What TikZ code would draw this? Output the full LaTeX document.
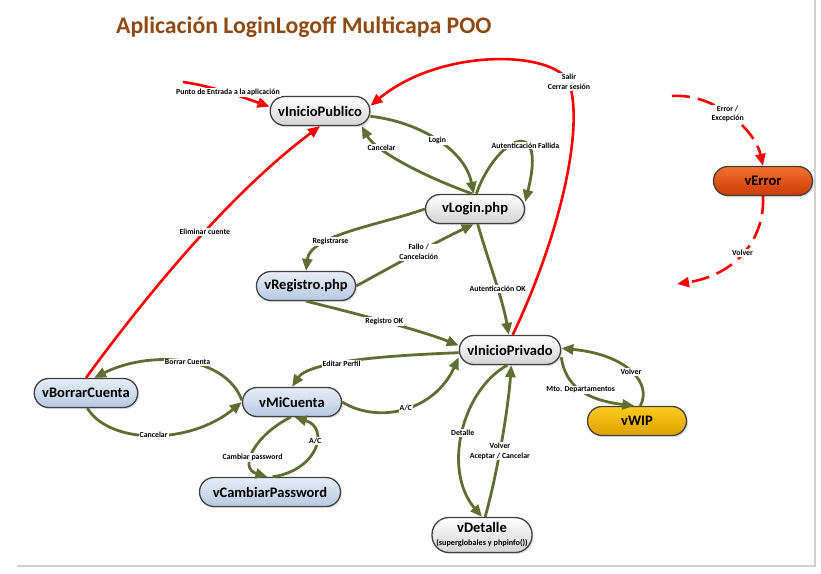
\documentclass[tikz,border=0pt]{standalone}
\usepackage{fontspec}
\setmainfont{Carlito}
\usetikzlibrary{arrows.meta,shadows}
\definecolor{edgegreen}{HTML}{5F6E32}
\definecolor{titlebrown}{HTML}{8E4A12}
\definecolor{bluetop}{HTML}{E6EEF7}
\definecolor{bluebot}{HTML}{B6CAE3}
\definecolor{errtop}{HTML}{F2712F}
\definecolor{errbot}{HTML}{CC3A02}
\definecolor{wiptop}{HTML}{FCCB1E}
\definecolor{wipbot}{HTML}{DDA000}
\definecolor{bordergrey}{HTML}{404040}
\newcommand{\ndfont}{\fontsize{14.5}{16}\selectfont\bfseries}
\newcommand{\lblfont}{\fontsize{7.8}{9.5}\selectfont\bfseries}
\begin{document}
\begin{tikzpicture}[x=1pt,y=-1pt,
  nd/.style={rectangle, rounded corners=14.5pt, draw=bordergrey, line width=1.3pt, minimum width=99pt,
    minimum height=29pt, inner xsep=8pt, inner ysep=2pt, font=\ndfont,
    drop shadow={shadow xshift=1.6pt,shadow yshift=-1.6pt,opacity=0.25}},
  greynode/.style={nd, top color=white, bottom color=black!17},
  bluenode/.style={nd, top color=bluetop, bottom color=bluebot},
  errnode/.style={nd, top color=errtop, bottom color=errbot},
  wipnode/.style={nd, top color=wiptop, bottom color=wipbot},
  ge/.style={draw=edgegreen, line width=2.8pt, -{Triangle[length=12pt,width=10pt]}},
  re/.style={draw=red, line width=2.6pt, -{Triangle[length=12pt,width=10pt]}},
  rd/.style={re, dash pattern=on 18pt off 8pt},
  lbl/.style={font=\lblfont, fill=white, inner sep=1pt, text=black, align=center}
]
\useasboundingbox (0,0) rectangle (821,573);
\draw[black!18, line width=1.5pt] (17,566) -- (815,566) -- (815,0);

\node[anchor=base west, font=\fontsize{23.8}{26}\selectfont\bfseries, text=titlebrown, inner sep=0]
  (title) at (116,33) {Aplicación LoginLogoff Multicapa POO};

% nodes
\node[greynode] (pub) at (320,111) {vInicioPublico};
\node[greynode] (login) at (475,209) {vLogin.php};
\node[bluenode] (reg) at (306,286) {vRegistro.php};
\node[greynode] (priv) at (510,350) {vInicioPrivado};
\node[errnode] (err) at (763,181) {vError};
\node[wipnode] (wip) at (637,421) {vWIP};
\node[bluenode] (mi) at (292,402) {vMiCuenta};
\node[bluenode] (borrar) at (86,393) {vBorrarCuenta};
\node[bluenode, minimum width=141pt] (cp) at (270,492) {vCambiarPassword};
\node[greynode, minimum width=100pt, minimum height=35pt, rounded corners=17pt, align=center, inner ysep=1pt, inner xsep=3pt] (det) at (482,535)
  {vDetalle\\[-3pt]{\fontsize{8.2}{9}\selectfont\bfseries (superglobales y phpinfo())}};

\coordinate (entry) at (183,82);
\coordinate (errin) at (672,96);
\coordinate (errout) at (677,284);

% red connectors
\draw[re] (entry) .. controls (212,86) and (245,98) ..
  node[lbl,pos=0.5]{Punto de Entrada a la aplicación} (pub.175);
\draw[re] (priv.80) .. controls (558,240) and (585,130) .. (569,82)
  node[lbl]{Salir\\Cerrar sesión}
  .. controls (552,50) and (440,48) .. (pub.6);
\draw[re] (borrar.north) .. controls (167,267) and (244,183) ..
  node[lbl,pos=0.5]{Eliminar cuente} (pub.south);
\draw[rd] (errin) .. controls (715,93) and (755,130) ..
  node[lbl,pos=0.47]{Error /\\Excepción} (err.north);
\draw[rd] (err.south) .. controls (765,240) and (735,275) ..
  node[lbl,pos=0.5]{Volver} (errout);

% green connectors
\draw[ge] (pub.-6) .. controls (420,122) and (465,150) ..
  node[lbl,pos=0.5]{Login} (login.95);
\draw[ge] (login.100) .. controls (420,175) and (375,150) ..
  node[lbl,pos=0.7]{Cancelar} (pub.-20);
\draw[ge] (login.85) .. controls (495,140) and (548,110) ..
  node[lbl,pos=0.64]{Autenticación Fallida} (login.8);
\draw[ge] (login.west) .. controls (380,225) and (310,235) ..
  node[lbl,pos=0.65]{Registrarse} (reg.north);
\draw[ge] (reg.east) .. controls (400,262) and (440,240) ..
  node[lbl,pos=0.5]{Fallo /\\Cancelación} (login.-95);
\draw[ge] (login.-80) .. controls (488,260) and (503,300) ..
  node[lbl,pos=0.58]{Autenticación OK} (priv.95);
\draw[ge] (reg.south) .. controls (350,312) and (420,330) ..
  node[lbl,pos=0.5]{Registro OK} (priv.175);
\draw[ge] (priv.183) .. controls (400,355) and (310,360) ..
  node[lbl,pos=0.6]{Editar Perfil} (mi.north);
\draw[ge] (mi.east) .. controls (380,425) and (435,410) ..
  node[lbl,pos=0.5]{A/C} (priv.188);
\draw[ge] (priv.-8) .. controls (565,385) and (585,400) ..
  node[lbl,pos=0.5]{Mto. Departamentos} (wip.100);
\draw[ge] (wip.78) .. controls (652,385) and (630,355) ..
  node[lbl,pos=0.5]{Volver} (priv.2);
\draw[ge] (priv.-100) .. controls (462,390) and (442,470) ..
  node[lbl,pos=0.5]{Detalle} (det.north);
\draw[ge] (det.80) .. controls (498,470) and (508,410) ..
  node[lbl,pos=0.43]{Volver\\Aceptar / Cancelar} (priv.-85);
\draw[ge] (mi.178) .. controls (225,355) and (150,350) ..
  node[lbl,pos=0.47]{Borrar Cuenta} (borrar.62);
\draw[ge] (borrar.-85) .. controls (110,445) and (190,445) ..
  node[lbl,pos=0.5]{Cancelar} (mi.west);
\draw[ge] (mi.-95) .. controls (255,435) and (238,468) ..
  node[lbl,pos=0.6]{Cambiar password} (cp.100);
\draw[ge] (cp.80) .. controls (318,470) and (330,428) ..
  node[lbl,pos=0.6]{A/C} (mi.-80);
\end{tikzpicture}
\end{document}
